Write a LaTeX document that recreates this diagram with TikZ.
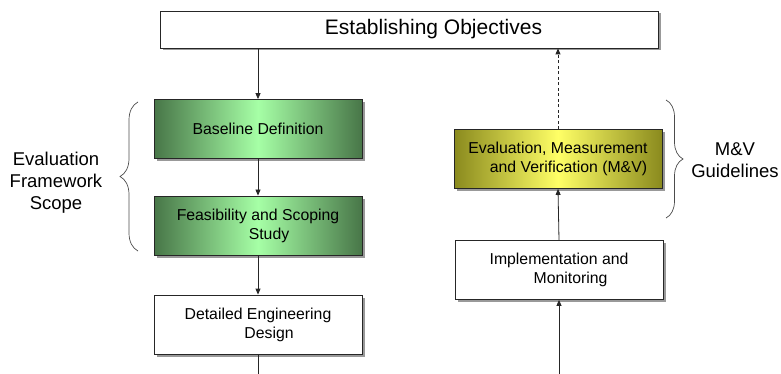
\documentclass[tikz,border=0pt]{standalone}
\usepackage{fontspec}
\setmainfont{Liberation Sans}
\usetikzlibrary{arrows.meta,shadows,decorations.pathreplacing}
\definecolor{greenedge}{RGB}{72,118,72}
\definecolor{greenmid}{RGB}{166,255,166}
\definecolor{oliveedge}{RGB}{138,138,30}
\definecolor{yellowmid}{RGB}{255,255,102}
\tikzset{
  stage/.style={draw=black!85,line width=0.8pt,minimum width=208pt,minimum height=59pt,align=center,inner sep=0pt,
    font=\fontsize{15.8}{19}\selectfont,fill=white,drop shadow={shadow xshift=2.5pt,shadow yshift=-2.5pt,fill=black!40,opacity=1}},
  greenstage/.style={stage,left color=greenedge,right color=greenedge,middle color=greenmid},
  yellowstage/.style={stage,left color=oliveedge,right color=oliveedge,middle color=yellowmid},
  flow/.style={draw=black!85,line width=0.8pt,-{Triangle[length=6pt,width=5pt]}},
  bracelabel/.style={align=center,font=\fontsize{18.5}{22}\selectfont},
  scopebrace/.style={draw=black!70,line width=0.7pt,decorate,decoration={brace,amplitude=18pt,aspect=0.5}}
}
\begin{document}
\begin{tikzpicture}[x=1pt,y=-1pt]
  \useasboundingbox (0,0) rectangle (781,374);
  \node[stage,minimum width=498pt,minimum height=37pt,font=\fontsize{21}{25}\selectfont] (objectives) at (409,29.5) {\hspace*{49pt}Establishing Objectives};
  \node[greenstage] (baseline) at (258,129) {Baseline Definition};
  \node[greenstage] (feasibility) at (258,225.5) {Feasibility and Scoping\\\hspace*{22pt}Study};
  \node[stage] (design) at (258,324.5) {Detailed Engineering\\\hspace*{22pt}Design};
  \node[yellowstage] (emv) at (558,159) {Evaluation, Measurement\\\hspace*{21pt}and Verification (M\&V)};
  \node[stage] (implement) at (559,270) {Implementation and\\\hspace*{23pt}Monitoring};
  \coordinate (designout) at (258,374);
  \coordinate (implementin) at (559,374);
  % left column
  \draw[flow] (objectives.south -| baseline.north) -- (baseline.north);
  \draw[flow] (baseline.south) -- (feasibility.north);
  \draw[flow] (feasibility.south) -- (design.north);
  \draw[draw=black!85,line width=0.8pt] (design.south) -- (designout);
  % right column
  \draw[flow] (implementin) -- (implement.south);
  \draw[flow] (implement.north) -- (emv.south);
  \draw[flow,dash pattern=on 3pt off 2.5pt] (emv.north) -- (objectives.south -| emv.north);
  % braces
  \draw[scopebrace] (138,251) -- (138,102);
  \draw[scopebrace,decoration={amplitude=17pt}] (666,100) -- (666,218);
  \node[bracelabel] (scopelabel) at (56,183) {Evaluation\\Framework\\Scope};
  \node[bracelabel] (guidelabel) at (735,160) {M\&V\\Guidelines};
\end{tikzpicture}
\end{document}
